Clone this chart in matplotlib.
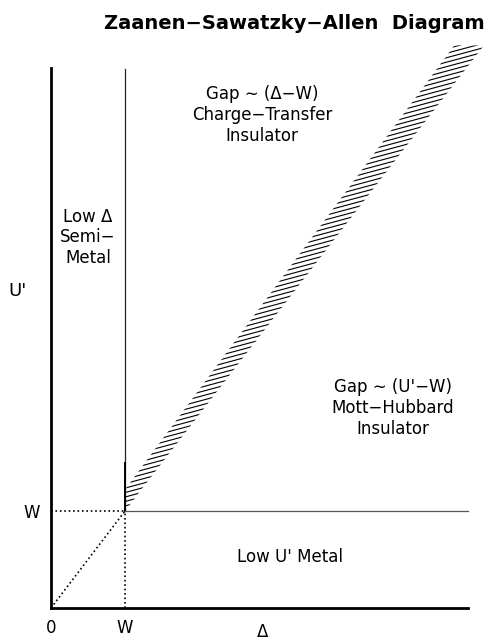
import numpy as np
import matplotlib
matplotlib.use("Agg")
import matplotlib.pyplot as plt
from matplotlib.collections import LineCollection

plt.rcParams['font.family'] = ['DejaVu Sans']

# W is the unit on both axes
W = 1.0
x_end = 5.64
y_top_spine = 5.57

# hatched boundary band (U' values, left and right edges in Delta)
band_u = [1.00, 1.22, 5.80]
band_lo = [1.00, 1.00, 5.45]
band_hi = [1.00, 1.22, 5.85]

# region labels: (text, delta, U')
labels = [
    ("Low \u0394\nSemi\u2212\nMetal", 0.50, 3.82),
    ("Gap \u223c (\u0394\u2212W)\nCharge\u2212Transfer\nInsulator", 2.85, 5.08),
    ("Gap \u223c (U'\u2212W)\nMott\u2212Hubbard\nInsulator", 4.62, 2.06),
    ("Low U' Metal", 3.23, 0.53),
]

fig = plt.figure(figsize=(4.87, 6.4), dpi=100)
ax = fig.add_axes([0.1047, 0.05, 6.0 * 74 / 487, 0.8875])
ax.set_xlim(0, 6.0)
ax.set_ylim(0, (608 - 40) / 97)

for s in ['top', 'right']:
    ax.spines[s].set_visible(False)
ax.spines['left'].set_bounds(0, y_top_spine)
ax.spines['bottom'].set_bounds(0, x_end)
ax.spines['left'].set_linewidth(2)
ax.spines['bottom'].set_linewidth(2)

ax.set_xticks([0, W], ['0', 'W'])
ax.set_yticks([W], ['W'])
ax.tick_params(length=0, labelsize=12, pad=8)

# dotted guides
ax.plot([0, W], [W, W], ':', color='k', lw=1.2)
ax.plot([W, W], [0, W], ':', color='k', lw=1.2)
ax.plot([0, W], [0, W], ':', color='k', lw=1.2)

# phase boundaries
ax.plot([W, W], [W, y_top_spine - 0.01], color='#222222', lw=0.9)
ax.plot([W, W], [W, 1.5], color='k', lw=1.4)
ax.plot([W, x_end], [W, W], color='#555555', lw=0.9)

# band outline (invisible) used as clip path for the hatch lines
poly = ax.fill_betweenx(band_u, band_lo, band_hi, facecolor='none',
                        edgecolor='none')
slope = 0.27 * 74 / 97
offs = np.arange(-1.5, 6.0, 0.046)
xs = np.array([0.8, 6.2])
segs = [np.column_stack([xs, c + slope * xs]) for c in offs]
lc = LineCollection(segs, colors='k', linewidths=0.8)
ax.add_collection(lc)
lc.set_clip_path(poly.get_paths()[0], ax.transData)

for txt, x, y in labels:
    ax.text(x, y, txt, ha='center', va='center', fontsize=12,
            linespacing=1.2)

ax.set_xlabel('\u0394', fontsize=12)
ax.set_ylabel("U'", fontsize=13, rotation=0)
ax.yaxis.set_label_coords(-0.08 * 417 / 444, (608 - 300) / 568)
ax.xaxis.set_label_coords((263 - 51) / 444, -0.027)

fig.text(0.604, 0.964, 'Zaanen\u2212Sawatzky\u2212Allen  Diagram',
         ha='center', va='center', fontsize=14, fontweight='bold')

fig.savefig('out.png', dpi=100)
